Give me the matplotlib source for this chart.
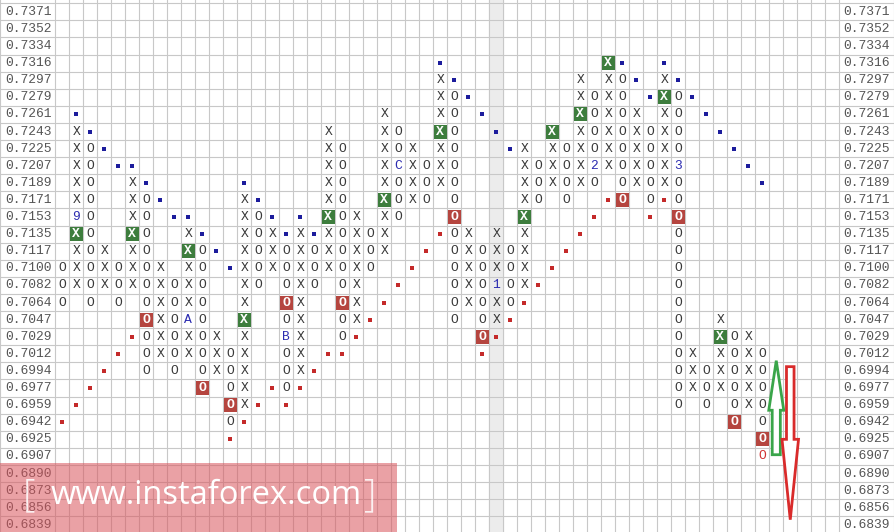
import matplotlib.pyplot as plt
from matplotlib.patches import Rectangle, FancyArrow

# ценовые уровни (строки сетки сверху вниз)
prices = ['0.7371', '0.7352', '0.7334', '0.7316', '0.7297', '0.7279', '0.7261',
          '0.7243', '0.7225', '0.7207', '0.7189', '0.7171', '0.7153', '0.7135',
          '0.7117', '0.7100', '0.7082', '0.7064', '0.7047', '0.7029', '0.7012',
          '0.6994', '0.6977', '0.6959', '0.6942', '0.6925', '0.6907', '0.6890',
          '0.6873', '0.6856', '0.6839']

# крестики-нолики: X/O -- обычные, G -- X в зелёной ячейке, R -- O в красной,
# q -- красный O, b/r -- синие/красные точки, цифры и буквы -- метки месяцев
rows = [
    "",
    "",
    "",
    ".......... .......... .......b.. .........G b..b",
    ".......... .......... .......Xb. .......X.X Ob.Xb",
    ".......... .......... .......XOb .......XOX O.bGOb",
    ".b........ .......... ...X...XO. b......GOX OX.XO.b",
    ".Xb....... .........X ...XO..GO. .b...G.XOX OXOXO..b",
    ".XOb...... .........X O..XOX.XO. ..bX.XOXOX OXOXO...b",
    ".XO.bb.... .........X O..XCXOXO. ...XOXOX2X OXOX3....b",
    ".XO..Xb... ...b.....X O..XOXOXO. ...XOXOXO. OXOXO..... b",
    ".XO..XOb.. ...Xb....X O..GOXO.O. ...XO.O..r R.OrO",
    ".9O..XO.bb ...XOb.b.G OX.XO...R. ...G....r. ..r.R",
    ".GO..GO..X b..XOXbXbX OXOX...rOX .X.X...r.. ....O",
    ".XOX.XO..G Ob.XOXOXOX OXOX..r.OX OXOX..r... ....O",
    "OXOXOXOX.X O.bXOXOXOX OXO..r..OX OXOX.r.... ....O",
    "OXOXOXOXOX O..XO.OXO. OX..r...OX O1OXr..... ....O",
    "O.O.O.OXOX O..X..RX.. RX.r....OX OXOr...... ....O",
    "......RXOA O..G..OX.. OXr.....O. OXr....... ....O..X",
    ".....rOXOX OX.X..BX.. Or........ Rr........ ....O..GOX",
    "....r.OXOX OXOX..OX.r r......... r......... ....OX.XOX O",
    "...r..O.O. OXOX..OXr. .......... .......... ....OXOXOX O",
    "..r....... R.OX.rOr.. .......... .......... ....OXOXOX O",
    ".r........ ..RXr.r... .......... .......... ....O.O.OX O",
    "r......... ..Or...... .......... .......... ........R. O",
    ".......... ..r....... .......... .......... .......... R",
    ".......... .......... .......... .......... .......... q",
    "",
    "",
    "",
    "",
]
n_cols = 56
highlight_col = 31

# стрелки прогноза: колонка, уровень начала, уровень конца
up_arrow = (51, '0.6907', '0.7012')
down_arrow = (52, '0.7012', '0.6839')


def main():
    grid = [r.replace(' ', '').ljust(n_cols, '.') for r in rows]
    n_rows = len(prices)

    fig = plt.figure(figsize=(8.94, 5.32), dpi=100)
    ax = fig.add_axes([0, 0, 1, 1])
    ax.set_xlim(-4.45, 59.41)
    ax.set_ylim(30.42, -0.693)
    ax.axis('off')

    ax.axvspan(highlight_col - 0.5, highlight_col + 0.5, color='#ececec', zorder=0)

    gc = '#c8c8c8'
    for k in range(n_cols + 1):
        ax.axvline(k - 0.5, color=gc, lw=0.8, zorder=1)
    ax.axvline(-4.43, color=gc, lw=0.8, zorder=1)
    ax.axvline(59.38, color=gc, lw=0.8, zorder=1)
    for r in range(-1, n_rows + 1):
        ax.axhline(r - 0.5, color=gc, lw=0.8, zorder=1)

    mono = 'Liberation Mono'
    for r, p in enumerate(prices):
        ax.text(-4.09, r, p, family=mono, fontsize=9.4, color='#555555',
                ha='left', va='center', zorder=3)
        ax.text(55.75, r, p, family=mono, fontsize=9.4, color='#555555',
                ha='left', va='center', zorder=3)

    for r, line in enumerate(grid):
        for k, ch in enumerate(line):
            if ch == '.':
                continue
            if ch in 'XO':
                ax.text(k, r, ch, family=mono, fontsize=9.4, color='#383838',
                        ha='center', va='center', zorder=3)
            elif ch in 'GR':
                fc = '#3d7d3d' if ch == 'G' else '#b5453f'
                ax.add_patch(Rectangle((k - 0.46, r - 0.41), 0.92, 0.82,
                                       facecolor=fc, edgecolor='none', zorder=2))
                ax.text(k, r, 'X' if ch == 'G' else 'O', family=mono, fontsize=9.4,
                        color='white', fontweight='bold', ha='center', va='center',
                        zorder=3)
            elif ch == 'q':
                ax.text(k, r, 'O', family=mono, fontsize=9.4, color='#d03030',
                        ha='center', va='center', zorder=3)
            elif ch in 'br':
                ax.plot(k, r, marker='s', ms=2.2, mew=0,
                        color='#1c1c9c' if ch == 'b' else '#c42a2a', zorder=3)
            else:
                ax.text(k, r, ch, family=mono, fontsize=9.4, color='#2b2bb0',
                        ha='center', va='center', zorder=3)

    # стрелки
    k, a, b = up_arrow
    y0 = prices.index(a) - 0.1
    y1 = prices.index(b) + 0.4
    ax.add_patch(FancyArrow(k, y0, 0, y1 - y0, width=0.58, head_width=1.07,
                            head_length=2.9, length_includes_head=True,
                            facecolor='white', edgecolor='#3aa54a', lw=2, zorder=4))
    k, a, b = down_arrow
    y0 = prices.index(a) + 0.75
    y1 = prices.index(b) - 0.3
    ax.add_patch(FancyArrow(k, y0, 0, y1 - y0, width=0.54, head_width=1.18,
                            head_length=4.7, length_includes_head=True,
                            facecolor='white', edgecolor='#d92b2b', lw=2, zorder=4))

    # водяной знак
    fig.patches.append(Rectangle((0, 0), 397 / 894, 69 / 532, transform=fig.transFigure,
                                 facecolor='#d9545c', alpha=0.55, edgecolor='none',
                                 zorder=5))
    fig.text(0.2305, 0.068, 'www.instaforex.com', family='Open Sans', fontsize=23.5,
             color='white', ha='center', va='center', zorder=6)
    fig.text(0.0325, 0.068, '[', family='Open Sans', fontsize=28, fontweight='light',
             color='white', alpha=0.85, ha='center', va='center', zorder=6)
    fig.text(0.4145, 0.068, ']', family='Open Sans', fontsize=28, fontweight='light',
             color='white', alpha=0.85, ha='center', va='center', zorder=6)

    fig.savefig('out.png', dpi=100)


if __name__ == '__main__':
    main()
